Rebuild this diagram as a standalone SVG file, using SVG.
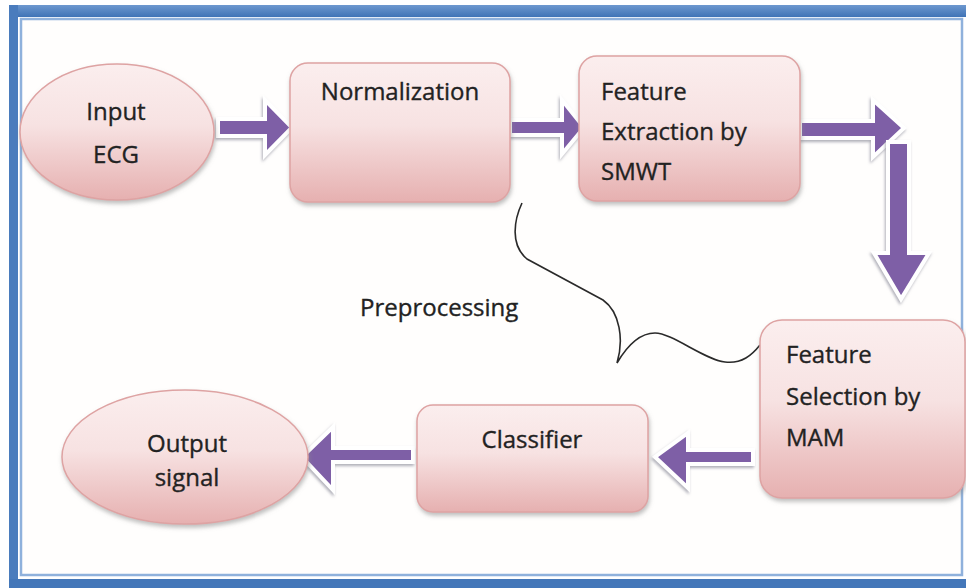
<svg xmlns="http://www.w3.org/2000/svg" width="966" height="588" viewBox="0 0 966 588">
<style>
.node{fill:url(#pink);stroke:#dea3a3;stroke-width:1.5;filter:url(#sh)}
.t{font-family:"Open Sans","Liberation Sans",sans-serif;font-size:24px;fill:#222222;stroke:#222222;stroke-width:0.35}
.c{text-anchor:middle}
.arr{fill:#7e5fa6;stroke:#ffffff;stroke-width:4;stroke-linejoin:miter;filter:url(#ash)}
.brace{fill:none;stroke:#2a2a2a;stroke-width:1.6}
</style>
<defs>
<linearGradient id="pink" x1="0" y1="0" x2="0" y2="1">
<stop offset="0" stop-color="#fbeeee"/>
<stop offset="0.45" stop-color="#f7e2e2"/>
<stop offset="1" stop-color="#e6b0b0"/>
</linearGradient>
<linearGradient id="blue" x1="0" y1="0" x2="0" y2="1">
<stop offset="0" stop-color="#6d98cf"/>
<stop offset="1" stop-color="#3f73b6"/>
</linearGradient>
<filter id="sh" x="-10%" y="-10%" width="130%" height="130%">
<feDropShadow dx="1" dy="3" stdDeviation="2" flood-color="#8a8a8a" flood-opacity="0.55"/>
</filter>
<filter id="ash" x="-20%" y="-20%" width="140%" height="140%">
<feDropShadow dx="-1" dy="2" stdDeviation="1.5" flood-color="#9a9aa6" flood-opacity="0.8"/>
</filter>
</defs>
<rect x="0" y="0" width="966" height="588" fill="#ffffff"/>
<g id="frame">
<rect x="9" y="5" width="957" height="12" fill="url(#blue)"/>
<rect x="9" y="5" width="9" height="583" fill="#4a7cbd"/>
<rect x="9" y="579" width="957" height="9" fill="#4477b9"/>
<rect x="21" y="19" width="941" height="556" fill="#fffefd" stroke="#8fb1dc" stroke-width="2.5"/>
</g>
<g id="connectors">
<polygon class="arr" points="218,119 265,119 265,100 292,127.5 265,155 265,136 218,136"/>
<polygon class="arr" points="510,120 562,120 562,100 584,127.5 562,154 562,135 510,135"/>
<polygon class="arr" points="800,121 873,121 873,100 904,128 873,157 873,138 800,138"/>
<polygon class="arr" points="888,142 909,142 909,253 929,253 901,299 874,253 888,253"/>
<polygon class="arr" points="753,450 688,450 688,433 655,457 688,488 688,464 753,464"/>
<polygon class="arr" points="413,448 333,448 333,427 302,457 333,490 333,462 413,462"/>
<path class="brace" d="M522,203 C514,220 510,245 527,259 L603,300 C620,312 624,340 617,363 C627,346 640,333 655,333 C672,333 705,360 725,362 C742,364 752,355 760,345"/>
</g>
<g id="input-ecg">
<ellipse class="node" cx="117" cy="132" rx="97" ry="68"/>
<text class="t c" x="116" y="120">Input</text>
<text class="t c" x="116" y="163">ECG</text>
</g>
<g id="normalization">
<rect class="node" x="290" y="63" width="220" height="139" rx="18"/>
<text class="t c" x="400" y="100">Normalization</text>
</g>
<g id="feature-extraction">
<rect class="node" x="579" y="56" width="221" height="145" rx="18"/>
<text class="t" x="601" y="100">Feature</text>
<text class="t" x="601" y="140">Extraction by</text>
<text class="t" x="601" y="180">SMWT</text>
</g>
<g id="feature-selection">
<rect class="node" x="760" y="320" width="205" height="178" rx="22"/>
<text class="t" x="786" y="363">Feature</text>
<text class="t" x="786" y="405">Selection by</text>
<text class="t" x="786" y="446">MAM</text>
</g>
<g id="classifier">
<rect class="node" x="417" y="405" width="231" height="107" rx="16"/>
<text class="t c" x="532" y="448">Classifier</text>
</g>
<g id="output-signal">
<ellipse class="node" cx="185" cy="457" rx="123" ry="67"/>
<text class="t c" x="187" y="452">Output</text>
<text class="t c" x="187" y="486">signal</text>
</g>
<g id="preprocessing-label">
<text class="t" x="360" y="316">Preprocessing</text>
</g>
</svg>
